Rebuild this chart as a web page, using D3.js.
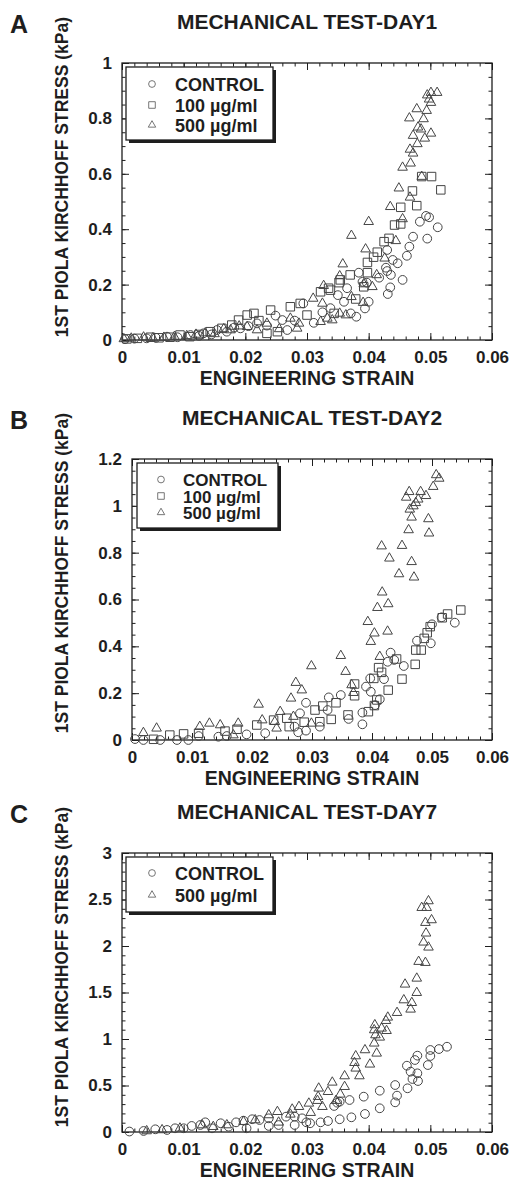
<!DOCTYPE html>
<html>
<head>
<meta charset="utf-8">
<script src="https://cdn.jsdelivr.net/npm/d3@7"></script>
<style>
    body { margin: 0; background: #fff; }
    text { font-family: "Liberation Sans", Arial, sans-serif; font-weight: bold; fill: #1e1e1e; }
    .tick text { font-size: 17px; }
</style>
</head>
<body>
<svg id="chart" width="513" height="1180"></svg>
<script>

// ---- data (strain, stress kPa) ----

const xTicks = [0, 0.01, 0.02, 0.03, 0.04, 0.05, 0.06];
const yTicksDay1 = [0, 0.2, 0.4, 0.6, 0.8, 1];
const yTicksDay2 = [0, 0.2, 0.4, 0.6, 0.8, 1, 1.2];
const yTicksDay7 = [0, 0.5, 1, 1.5, 2, 2.5, 3];

const seriesNames = ['CONTROL', '100 µg/ml', '500 µg/ml'];

const day1Control = [
    [0.0005,0.003],[0.002,0.005],[0.004,0.006],[0.0055,0.008],[0.0073,0.012],[0.009,0.01],[0.0111,0.018],
    [0.0125,0.015],[0.0132,0.024],[0.0145,0.02],[0.0154,0.036],[0.017,0.03],[0.0182,0.045],[0.0192,0.042],
    [0.0205,0.05],[0.0219,0.06],[0.0235,0.052],[0.0249,0.088],[0.026,0.072],[0.0268,0.036],[0.028,0.07],
    [0.0294,0.132],[0.0311,0.062],[0.0325,0.1],[0.0338,0.115],[0.035,0.162],[0.036,0.138],[0.0365,0.187],
    [0.0371,0.096],[0.038,0.084],[0.0384,0.243],[0.039,0.21],[0.0394,0.114],[0.0397,0.207],[0.04,0.138],
    [0.0417,0.225],[0.0428,0.261],[0.043,0.249],[0.0431,0.166],[0.043,0.325],[0.0435,0.19],[0.0436,0.235],
    [0.0439,0.289],[0.0447,0.277],[0.0455,0.217],[0.0462,0.304],[0.0466,0.337],[0.0472,0.373],[0.0483,0.427],
    [0.0493,0.448],[0.0495,0.366],[0.0498,0.443],[0.0512,0.407]
];
const day1Dose100 = [
    [0.0008,0.004],[0.0025,0.006],[0.0046,0.01],[0.006,0.008],[0.0078,0.01],[0.0094,0.018],[0.011,0.012],
    [0.0125,0.02],[0.0143,0.03],[0.0162,0.042],[0.0178,0.054],[0.0189,0.072],[0.0203,0.09],[0.0214,0.096],
    [0.0222,0.07],[0.0235,0.024],[0.0241,0.108],[0.0252,0.03],[0.0273,0.12],[0.0289,0.132],[0.03,0.09],
    [0.0322,0.174],[0.0335,0.187],[0.0338,0.18],[0.0344,0.096],[0.0352,0.207],[0.0354,0.217],[0.037,0.235],
    [0.0379,0.148],[0.0392,0.192],[0.0398,0.243],[0.0398,0.28],[0.0408,0.299],[0.0414,0.317],[0.0425,0.355],
    [0.0433,0.367],[0.0442,0.415],[0.0452,0.419],[0.0452,0.479],[0.0471,0.538],[0.0478,0.485],[0.0486,0.59],
    [0.0502,0.59],[0.0517,0.542]
];
const day1Dose500 = [
    [0.0003,0.004],[0.0015,0.006],[0.0035,0.01],[0.005,0.007],[0.0068,0.009],[0.0085,0.012],[0.0105,0.015],
    [0.012,0.02],[0.0135,0.025],[0.015,0.022],[0.0165,0.04],[0.0176,0.036],[0.019,0.05],[0.0203,0.048],
    [0.0219,0.036],[0.0235,0.06],[0.0255,0.04],[0.0273,0.078],[0.0284,0.042],[0.0287,0.06],[0.031,0.15],
    [0.0322,0.066],[0.0325,0.132],[0.0327,0.196],[0.0333,0.078],[0.0341,0.072],[0.0353,0.096],[0.0353,0.231],
    [0.0358,0.274],[0.0363,0.09],[0.0372,0.156],[0.0372,0.377],[0.0391,0.135],[0.0392,0.202],[0.0395,0.328],
    [0.04,0.427],[0.0406,0.192],[0.0413,0.235],[0.0426,0.295],[0.0435,0.481],[0.0444,0.358],[0.0449,0.548],
    [0.0455,0.437],[0.0455,0.623],[0.0466,0.801],[0.0467,0.515],[0.0467,0.688],[0.0468,0.638],[0.0472,0.674],
    [0.0472,0.738],[0.0478,0.834],[0.0479,0.708],[0.048,0.768],[0.0485,0.761],[0.0486,0.59],[0.0489,0.798],
    [0.0491,0.728],[0.0494,0.828],[0.0495,0.884],[0.0498,0.869],[0.0501,0.893],[0.0501,0.857],[0.0501,0.746],
    [0.0511,0.893]
];

const day2Control = [
    [0.0005,0.004],[0.0019,0.0],[0.0047,0.0],[0.0075,0.0],[0.0094,0.0],[0.0111,0.017],[0.0144,0.014],
    [0.0158,0.017],[0.0191,0.024],[0.0222,0.029],[0.0271,0.057],[0.0277,0.033],[0.028,0.114],[0.029,0.159],
    [0.029,0.04],[0.0313,0.057],[0.0326,0.128],[0.0328,0.182],[0.0348,0.192],[0.0361,0.09],[0.0384,0.117],
    [0.0384,0.067],[0.039,0.228],[0.0397,0.263],[0.0398,0.206],[0.0405,0.149],[0.0413,0.174],[0.042,0.26],
    [0.0426,0.334],[0.0431,0.373],[0.0437,0.342],[0.0453,0.316],[0.0475,0.424],[0.0498,0.413],[0.05,0.494],
    [0.0516,0.524],[0.0538,0.501]
];
const day2Dose100 = [
    [0.0036,0.003],[0.0063,0.021],[0.0086,0.026],[0.0111,0.029],[0.0155,0.038],[0.0175,0.046],[0.0208,0.064],
    [0.0236,0.085],[0.0258,0.093],[0.0262,0.057],[0.0287,0.076],[0.0305,0.128],[0.0313,0.078],[0.0318,0.145],
    [0.0332,0.088],[0.034,0.159],[0.036,0.107],[0.0371,0.189],[0.0371,0.239],[0.0394,0.121],[0.0404,0.147],
    [0.0408,0.171],[0.0403,0.263],[0.0411,0.309],[0.0416,0.289],[0.0427,0.213],[0.0441,0.346],[0.045,0.26],
    [0.0472,0.323],[0.0473,0.384],[0.0482,0.384],[0.0487,0.434],[0.0492,0.458],[0.0497,0.484],[0.0517,0.522],
    [0.0526,0.538],[0.0548,0.555]
];
const day2Dose500 = [
    [0.0019,0.031],[0.0041,0.05],[0.0113,0.057],[0.0129,0.071],[0.0147,0.064],[0.0169,0.021],[0.0177,0.071],
    [0.0211,0.152],[0.0217,0.085],[0.0238,0.078],[0.0241,0.05],[0.0247,0.121],[0.0265,0.178],[0.0269,0.1],
    [0.0273,0.245],[0.0283,0.213],[0.0299,0.316],[0.0299,0.071],[0.0348,0.36],[0.0356,0.292],[0.0366,0.235],
    [0.0369,0.202],[0.0393,0.505],[0.0398,0.42],[0.0404,0.456],[0.0409,0.565],[0.0413,0.356],[0.0416,0.828],
    [0.0417,0.631],[0.0426,0.464],[0.0427,0.581],[0.0429,0.776],[0.0445,0.709],[0.045,0.83],[0.0457,1.036],
    [0.0461,0.897],[0.0462,1.06],[0.0463,0.985],[0.0466,0.951],[0.0466,0.761],[0.0469,0.999],[0.047,0.695],
    [0.0473,1.013],[0.0477,1.028],[0.0481,1.06],[0.049,1.043],[0.0494,0.944],[0.0495,0.883],[0.0502,1.082],
    [0.0507,1.132],[0.0512,1.117]
];

const day7Control = [
    [0.0012,0.005],[0.0035,0.011],[0.0054,0.029],[0.0073,0.022],[0.0086,0.04],[0.01,0.04],[0.0113,0.065],
    [0.0127,0.075],[0.0135,0.104],[0.0146,0.04],[0.016,0.094],[0.0173,0.057],[0.0185,0.104],[0.0197,0.122],
    [0.0202,0.04],[0.0211,0.137],[0.0223,0.129],[0.0238,0.147],[0.0238,0.065],[0.0254,0.075],[0.0266,0.165],
    [0.028,0.165],[0.028,0.075],[0.0292,0.147],[0.0299,0.104],[0.0305,0.094],[0.0322,0.104],[0.0334,0.118],
    [0.0344,0.28],[0.0349,0.315],[0.0353,0.326],[0.0353,0.137],[0.0369,0.344],[0.0372,0.158],[0.0392,0.38],
    [0.0394,0.194],[0.0418,0.444],[0.0418,0.255],[0.0443,0.505],[0.0443,0.319],[0.0446,0.391],[0.0462,0.713],
    [0.0463,0.47],[0.0468,0.649],[0.0471,0.57],[0.0475,0.774],[0.0479,0.821],[0.0479,0.631],[0.048,0.548],
    [0.0496,0.72],[0.05,0.817],[0.05,0.882],[0.0514,0.892],[0.0527,0.917]
];
const day7Dose500 = [
    [0.004,0.011],[0.0065,0.022],[0.0094,0.04],[0.013,0.075],[0.0148,0.057],[0.017,0.075],[0.0197,0.111],
    [0.0216,0.129],[0.0238,0.183],[0.0252,0.218],[0.0254,0.104],[0.0273,0.19],[0.0276,0.244],[0.0287,0.272],
    [0.0303,0.308],[0.0306,0.208],[0.0317,0.337],[0.0318,0.38],[0.0319,0.47],[0.0325,0.272],[0.0334,0.433],
    [0.0341,0.534],[0.0347,0.337],[0.0354,0.405],[0.0361,0.487],[0.0361,0.602],[0.0377,0.745],[0.0379,0.817],
    [0.0379,0.685],[0.0385,0.602],[0.0394,0.882],[0.0402,0.728],[0.0409,0.954],[0.0409,1.097],[0.0411,1.043],
    [0.041,1.151],[0.0413,0.846],[0.0418,1.018],[0.0421,1.115],[0.0428,1.197],[0.0429,1.089],[0.0431,1.233],
    [0.0446,1.283],[0.0457,1.419],[0.0459,1.588],[0.0468,1.319],[0.047,1.39],[0.0478,1.652],[0.0478,1.498],
    [0.0481,1.832],[0.0489,2.04],[0.0492,1.821],[0.0492,2.251],[0.0493,2.137],[0.0486,2.412],[0.0494,2.412],
    [0.0497,1.986],[0.0497,2.484],[0.0502,2.28]
];

// ---- drawing ----

const svg = d3.select('#chart');
const fmt = d3.format('~g');
const ink = '#1e1e1e';
const markInk = '#454545';

const symbolTypes = {
    circle: d3.symbolCircle,
    square: d3.symbolSquare,
    triangle: d3.symbolTriangle
};
const symbolSizes = { circle: 60, square: 72, triangle: 40 };

function styleAxis(sel) {
    sel.select('.domain').remove();
    sel.attr('font-size', null).attr('font-family', null);
    sel.selectAll('.tick line').attr('stroke', ink).attr('stroke-width', 1);
}

function drawPanel(p) {
    const g = svg.append('g');

    const xScale = d3.scaleLinear().domain([0, 0.06]).range([p.left, p.right]);
    const yScale = d3.scaleLinear().domain([0, p.yMax]).range([p.bottom, p.top]);

    const xMinor = d3.range(0, 0.0601, 0.002);
    const yMinor = d3.range(0, p.yMax + 1e-9, p.yMinorStep);

    // minor ticks on all four sides
    g.append('g').attr('transform', `translate(0,${p.bottom})`)
        .call(d3.axisBottom(xScale).tickValues(xMinor).tickSize(-3.5).tickFormat('')).call(styleAxis);
    g.append('g').attr('transform', `translate(0,${p.top})`)
        .call(d3.axisTop(xScale).tickValues(xMinor).tickSize(-3.5).tickFormat('')).call(styleAxis);
    g.append('g').attr('transform', `translate(${p.left},0)`)
        .call(d3.axisLeft(yScale).tickValues(yMinor).tickSize(-3.5).tickFormat('')).call(styleAxis);
    g.append('g').attr('transform', `translate(${p.right},0)`)
        .call(d3.axisRight(yScale).tickValues(yMinor).tickSize(-3.5).tickFormat('')).call(styleAxis);

    // major ticks
    g.append('g').attr('transform', `translate(0,${p.bottom})`)
        .call(d3.axisBottom(xScale).tickValues(xTicks).tickSize(-7).tickPadding(10.5).tickFormat(fmt)).call(styleAxis);
    g.append('g').attr('transform', `translate(0,${p.top})`)
        .call(d3.axisTop(xScale).tickValues(xTicks).tickSize(-7).tickFormat('')).call(styleAxis);
    g.append('g').attr('transform', `translate(${p.left},0)`)
        .call(d3.axisLeft(yScale).tickValues(p.yTicks).tickSize(-7).tickPadding(10).tickFormat(fmt)).call(styleAxis);
    g.append('g').attr('transform', `translate(${p.right},0)`)
        .call(d3.axisRight(yScale).tickValues(p.yTicks).tickSize(-7).tickFormat('')).call(styleAxis);

    g.append('rect')
        .attr('x', p.left).attr('y', p.top)
        .attr('width', p.right - p.left).attr('height', p.bottom - p.top)
        .attr('fill', 'none').attr('stroke', ink).attr('stroke-width', 1.3);

    // points
    p.series.forEach(s => {
        g.append('g')
            .selectAll('path')
            .data(s.data)
            .join('path')
                .attr('transform', d => `translate(${xScale(d[0])},${yScale(d[1])})`)
                .attr('d', d3.symbol(symbolTypes[s.shape], symbolSizes[s.shape]))
                .attr('fill', 'none')
                .attr('stroke', markInk)
                .attr('stroke-width', 1);
    });

    // legend with drop shadow
    const lg = p.legend;
    g.append('rect')
        .attr('x', lg.x + 3).attr('y', lg.y + 3).attr('width', lg.w).attr('height', lg.h)
        .attr('fill', ink);
    g.append('rect')
        .attr('x', lg.x).attr('y', lg.y).attr('width', lg.w).attr('height', lg.h)
        .attr('fill', '#fff').attr('stroke', ink).attr('stroke-width', 1.3);

    const rows = g.selectAll('.legendRow')
        .data(p.series)
        .join('g')
            .classed('legendRow', true)
            .attr('transform', (d, i) => `translate(0,${lg.rowY[i]})`);
    rows.append('path')
        .attr('transform', `translate(${lg.symX},0)`)
        .attr('d', d => d3.symbol(symbolTypes[d.shape], symbolSizes[d.shape] * 0.6)())
        .attr('fill', 'none').attr('stroke', '#666').attr('stroke-width', 0.9);
    rows.append('text')
        .attr('x', lg.textX).attr('y', 6.5)
        .style('font-size', lg.fontSize + 'px')
        .text(d => d.name);

    // labels
    g.append('text')
        .attr('x', (p.left + p.right) / 2).attr('y', p.top - 34.5)
        .attr('text-anchor', 'middle')
        .style('font-size', '21px')
        .text(p.title);

    g.append('text')
        .attr('x', 10).attr('y', p.top - 30)
        .style('font-size', '25px')
        .text(p.letter);

    g.append('text')
        .attr('x', (p.left + p.right) / 2).attr('y', p.bottom + 44.5)
        .attr('text-anchor', 'middle')
        .style('font-size', '19.5px')
        .text('ENGINEERING STRAIN');

    g.append('text')
        .attr('transform', `translate(68,${p.top - 46}) rotate(-90)`)
        .attr('text-anchor', 'end')
        .style('font-size', '17.5px')
        .text('1ST PIOLA KIRCHHOFF STRESS (kPa)');
}

drawPanel({
    letter: 'A', title: 'MECHANICAL TEST-DAY1',
    left: 122, right: 492, top: 63, bottom: 340,
    yMax: 1, yTicks: yTicksDay1, yMinorStep: 0.05,
    series: [
        { name: seriesNames[0], shape: 'circle', data: day1Control },
        { name: seriesNames[1], shape: 'square', data: day1Dose100 },
        { name: seriesNames[2], shape: 'triangle', data: day1Dose500 }
    ],
    legend: { x: 126, y: 67, w: 147, h: 73, symX: 152, textX: 175, fontSize: 18, rowY: [84, 105, 125] }
});

drawPanel({
    letter: 'B', title: 'MECHANICAL TEST-DAY2',
    left: 132, right: 492, top: 459, bottom: 740,
    yMax: 1.2, yTicks: yTicksDay2, yMinorStep: 0.05,
    series: [
        { name: seriesNames[0], shape: 'circle', data: day2Control },
        { name: seriesNames[1], shape: 'square', data: day2Dose100 },
        { name: seriesNames[2], shape: 'triangle', data: day2Dose500 }
    ],
    legend: { x: 137, y: 463, w: 141, h: 65, symX: 161, textX: 183, fontSize: 17, rowY: [479.5, 496, 512.5] }
});

drawPanel({
    letter: 'C', title: 'MECHANICAL TEST-DAY7',
    left: 122, right: 492, top: 853, bottom: 1132,
    yMax: 3, yTicks: yTicksDay7, yMinorStep: 0.1,
    series: [
        { name: seriesNames[0], shape: 'circle', data: day7Control },
        { name: seriesNames[2], shape: 'triangle', data: day7Dose500 }
    ],
    legend: { x: 126, y: 857, w: 147, h: 55, symX: 152, textX: 175, fontSize: 18, rowY: [873, 895] }
});

</script>
</body>
</html>
